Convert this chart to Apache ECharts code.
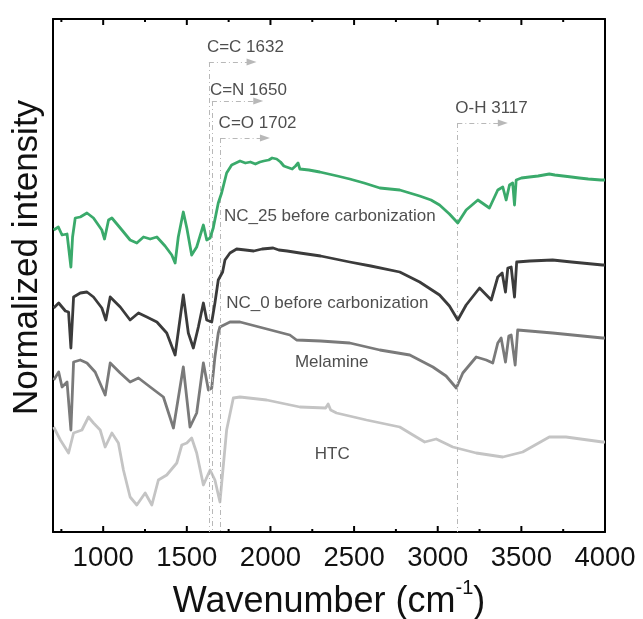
<!DOCTYPE html>
<html>
<head>
<meta charset="utf-8">
<script src="https://cdn.jsdelivr.net/npm/echarts@6/dist/echarts.min.js"></script>
<style>
  html, body { margin: 0; padding: 0; background: #fff; }
  #chart { width: 643px; height: 619px; }
</style>
</head>
<body>
<div id="chart"></div>
<script>
// FTIR spectra, stacked with vertical offsets (arbitrary intensity units)
const xMajorTicks = [1000, 1500, 2000, 2500, 3000, 3500, 4000];
const xMinorTicks = [750, 1250, 1750, 2250, 2750, 3250, 3750];

const nc25Wn  = [704, 732, 754, 784, 807, 817, 833, 863, 903, 942, 992, 1008, 1032, 1052, 1102, 1161, 1201, 1241, 1281, 1321, 1370, 1410, 1430, 1449, 1479, 1500, 1529, 1559, 1599, 1619, 1639, 1658, 1688, 1708, 1738, 1768, 1818, 1850, 1880, 1910, 1937, 1960, 1990, 2010, 2037, 2060, 2080, 2096, 2130, 2150, 2165, 2176, 2230, 2295, 2400, 2474, 2560, 2654, 2773, 2892, 2960, 3011, 3070, 3120, 3170, 3240, 3309, 3359, 3389, 3409, 3429, 3448, 3459, 3469, 3500, 3548, 3600, 3667, 3700, 3750, 3800, 3846, 3900, 3976, 4000];
const nc25Int = [302, 305, 297, 298, 265, 295, 314, 315, 319, 314, 302, 293, 312, 314, 304, 292, 289, 295, 293, 295, 286, 277, 269, 295, 320, 304, 277, 285, 307, 292, 294, 304, 329, 339, 359, 367, 371, 369, 370, 368, 370, 371, 372, 374, 373, 370, 366, 365, 363, 366, 369, 363, 362, 360, 356, 353, 349, 344, 342, 336, 332, 327, 318, 309, 322, 332, 324, 342, 345, 332, 347, 349, 327, 352, 354, 355, 356, 358, 357, 356, 355, 354, 353, 352, 352];

const nc0Wn  = [704, 734, 774, 793, 807, 823, 863, 903, 942, 992, 1016, 1042, 1102, 1161, 1211, 1261, 1321, 1380, 1430, 1479, 1509, 1539, 1569, 1599, 1619, 1649, 1668, 1688, 1714, 1728, 1758, 1798, 1850, 1900, 1950, 2016, 2050, 2100, 2176, 2300, 2474, 2600, 2773, 2892, 3011, 3070, 3120, 3170, 3250, 3320, 3359, 3385, 3405, 3419, 3439, 3459, 3472, 3550, 3687, 3800, 3985, 4000];
const nc0Int = [224, 229, 221, 220, 184, 235, 239, 240, 235, 224, 212, 235, 225, 212, 219, 215, 210, 199, 177, 237, 199, 184, 205, 229, 212, 210, 229, 252, 260, 272, 279, 283, 282, 281, 283, 284, 282, 281, 279, 276, 270, 266, 260, 250, 237, 226, 212, 227, 244, 232, 255, 259, 240, 264, 265, 235, 270, 271, 272, 270, 267, 267];

const melWn  = [704, 734, 754, 784, 807, 823, 863, 903, 952, 1012, 1042, 1102, 1161, 1211, 1281, 1360, 1420, 1479, 1519, 1559, 1599, 1629, 1649, 1668, 1688, 1698, 1758, 1818, 2116, 2156, 2300, 2474, 2654, 2833, 2971, 3050, 3111, 3150, 3230, 3290, 3329, 3359, 3379, 3405, 3425, 3439, 3463, 3478, 3687, 3985, 4000];
const melInt = [152, 160, 145, 150, 102, 170, 172, 169, 160, 137, 169, 159, 150, 154, 145, 135, 104, 165, 105, 119, 169, 142, 144, 175, 199, 205, 210, 210, 197, 192, 191, 189, 182, 177, 165, 156, 144, 159, 175, 172, 169, 189, 194, 170, 196, 197, 167, 202, 199, 194, 194];

const htcWn  = [704, 744, 793, 823, 873, 912, 942, 982, 1012, 1052, 1091, 1121, 1161, 1201, 1251, 1291, 1330, 1380, 1440, 1470, 1500, 1529, 1559, 1599, 1639, 1668, 1698, 1738, 1778, 1818, 1977, 2176, 2330, 2345, 2360, 2395, 2574, 2773, 2852, 2922, 2991, 3090, 3230, 3389, 3508, 3667, 3767, 3985, 4000];
const htcInt = [105, 92, 79, 99, 102, 115, 109, 102, 85, 99, 89, 62, 35, 27, 39, 27, 52, 57, 69, 87, 89, 94, 79, 47, 62, 52, 30, 102, 134, 135, 132, 125, 124, 128, 122, 119, 112, 105, 97, 90, 93, 85, 79, 75, 80, 95, 95, 90, 90];

const seriesNames  = ['HTC', 'Melamine', 'NC_0 before carbonization', 'NC_25 before carbonization'];
const seriesColors = ['#c4c4c4', '#7a7a7a', '#3b3b3b', '#3aaa6b'];
const seriesWn  = [htcWn, melWn, nc0Wn, nc25Wn];
const seriesInt = [htcInt, melInt, nc0Int, nc25Int];

// in-plot curve labels: left anchor [wavenumber, intensity]
const curveLabelPos = [[2265, 78], [2146, 170], [1735, 229], [1722, 316]];

// band assignments
const bandNames  = ['C=C 1632', 'C=N 1650', 'C=O 1702', 'O-H 3117'];
const bandWn     = [1632, 1650, 1702, 3117];
const bandTop    = [470, 431, 394, 409];
const bandArrow  = [1887, 1927, 1967, 3389];
const bandTextY  = [485, 442, 409, 424];

const yMin = 0, yMax = 513;
const FONT = 'Liberation Sans, Arial, sans-serif';

const zip = (a, b) => a.map((v, i) => [v, b[i]]);

const lineSeries = seriesNames.map((name, i) => ({
  name: name,
  type: 'line',
  data: zip(seriesWn[i], seriesInt[i]),
  showSymbol: false,
  silent: true,
  lineStyle: { color: seriesColors[i], width: 2.8, join: 'round' },
  z: 3 + i
}));

const dashDot = [5, 3, 1, 3];
const bracketLines = [];
bandWn.forEach((wn, i) => {
  bracketLines.push([
    { coord: [wn, bandTop[i]], symbol: 'none' },
    { coord: [wn, yMin], symbol: 'none' }
  ]);
  bracketLines.push([
    { coord: [wn, bandTop[i]], symbol: 'none' },
    { coord: [bandArrow[i], bandTop[i]], symbol: 'triangle', symbolSize: [7, 10], symbolRotate: -90 }
  ]);
});

const annotationSeries = {
  type: 'line',
  data: [],
  silent: true,
  markLine: {
    silent: true,
    animation: false,
    label: { show: false },
    lineStyle: { color: '#b8b8b8', width: 1, type: dashDot },
    itemStyle: { color: '#bdbdbd' },
    data: bracketLines
  },
  z: 2
};

const textFont = { fontFamily: FONT, fontSize: 17, color: '#222' };

const bandTextSeries = {
  type: 'scatter',
  symbolSize: 0,
  silent: true,
  data: bandWn.map((wn, i) => ({ value: [wn, bandTextY[i]], name: bandNames[i] })),
  label: Object.assign({
    show: true, position: [0, 0], align: 'left', verticalAlign: 'middle', offset: [-2, 0],
    formatter: p => p.name
  }, textFont),
  z: 10
};

const curveTextSeries = {
  type: 'scatter',
  symbolSize: 0,
  silent: true,
  data: seriesNames.map((n, i) => ({ value: curveLabelPos[i], name: n })),
  label: Object.assign({
    show: true, position: [0, 0], align: 'left', verticalAlign: 'middle',
    formatter: p => p.name
  }, textFont),
  z: 10
};

// inward tick marks on bottom and top frame edges, placed through the x scale
const tickSeries = {
  type: 'custom',
  silent: true,
  clip: false,
  data: xMajorTicks.concat(xMinorTicks).map(v => [v, yMin]),
  renderItem: (params, api) => {
    const v = api.value(0);
    const len = xMajorTicks.indexOf(v) >= 0 ? 6 : 3;
    const b = api.coord([v, yMin]);
    const t = api.coord([v, yMax]);
    const st = { stroke: '#000', lineWidth: 2 };
    return {
      type: 'group',
      children: [
        { type: 'line', shape: { x1: b[0], y1: b[1], x2: b[0], y2: b[1] - len }, style: st },
        { type: 'line', shape: { x1: t[0], y1: t[1], x2: t[0], y2: t[1] + len }, style: st }
      ]
    };
  },
  z: 20
};

const option = {
  animation: false,
  backgroundColor: '#fff',
  grid: { left: 53, right: 38, top: 19, bottom: 87, containLabel: false, outerBoundsMode: 'none' },
  xAxis: [
    {
      type: 'value', min: 700, max: 4000, position: 'bottom',
      splitLine: { show: false },
      name: '{t|Wavenumber (cm}{s|-1}{t|)}',
      nameLocation: 'middle',
      nameGap: 46,
      nameTextStyle: {
        rich: {
          t: { fontFamily: FONT, fontSize: 36, color: '#111', verticalAlign: 'bottom', lineHeight: 42 },
          s: { fontFamily: FONT, fontSize: 20, color: '#111', verticalAlign: 'top', lineHeight: 42, padding: [0, 0, 20, 0] }
        }
      },
      axisLine: { show: true, onZero: false, lineStyle: { color: '#000', width: 2 } },
      axisTick: { show: false },
      axisLabel: {
        show: true, customValues: xMajorTicks, margin: 12,
        formatter: v => String(v),
        fontFamily: FONT, fontSize: 27.5, color: '#111'
      }
    },
    {
      type: 'value', min: 700, max: 4000, position: 'top',
      splitLine: { show: false },
      axisLine: { show: true, onZero: false, lineStyle: { color: '#000', width: 2 } },
      axisTick: { show: false },
      axisLabel: { show: false }
    }
  ],
  yAxis: [
    {
      type: 'value', min: yMin, max: yMax, position: 'left',
      axisLine: { show: true, onZero: false, lineStyle: { color: '#000', width: 2 } },
      axisTick: { show: false }, axisLabel: { show: false }, splitLine: { show: false }
    },
    {
      type: 'value', min: yMin, max: yMax, position: 'right',
      axisLine: { show: true, onZero: false, lineStyle: { color: '#000', width: 2 } },
      axisTick: { show: false }, axisLabel: { show: false }, splitLine: { show: false }
    }
  ],
  graphic: [{
    type: 'text',
    x: 27,
    y: 415,
    rotation: Math.PI / 2,
    style: {
      text: 'Normalized intensity',
      fontFamily: FONT,
      fontSize: 35,
      fill: '#111',
      align: 'left',
      verticalAlign: 'middle'
    }
  }],
  series: [annotationSeries].concat(lineSeries, [bandTextSeries, curveTextSeries, tickSeries])
};

const chart = echarts.init(document.getElementById('chart'), null, { renderer: 'canvas' });
chart.setOption(option);
</script>
</body>
</html>
